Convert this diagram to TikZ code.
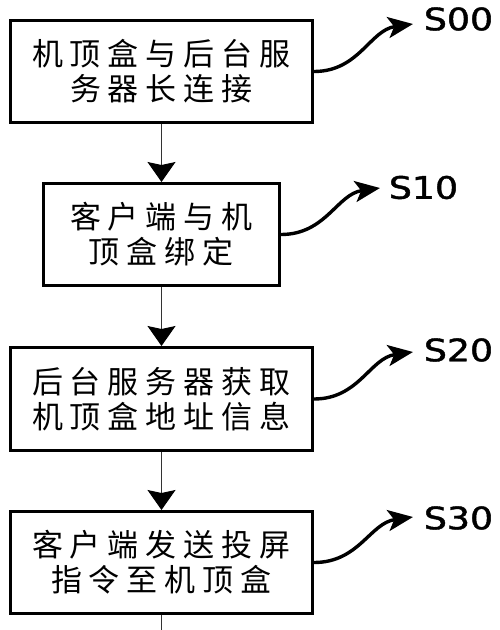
\documentclass[tikz,border=0pt]{standalone}
\usepackage{fontspec}
\newfontfamily\cjk{Noto Sans CJK SC}
\newfontfamily\lab[FakeBold=1.3]{DejaVu Sans}
\usetikzlibrary{arrows.meta}
\newdimen\cjkgap \cjkgap=7pt
\makeatletter
\def\spaced#1{\spaced@#1\@nil}
\def\spaced@#1{\ifx#1\@nil\else#1\expandafter\spaced@@\fi}
\def\spaced@@#1{\ifx#1\@nil\else\kern\cjkgap#1\expandafter\spaced@@\fi}
\makeatother
\tikzset{
  box/.style={draw, line width=3pt, inner sep=0pt, align=center,
    minimum height=102pt,
    font=\cjk\fontsize{31}{35}\selectfont},
  wide/.style={minimum width=302pt},
  narrow/.style={minimum width=236pt},
  flow/.style={draw=black!80, line width=1pt},
  flowarrow/.style={flow, -{Stealth[length=20pt,width=28pt,inset=3pt,fill=black,color=black]}},
  wave/.style={line width=3.4pt, -{Stealth[length=25pt,width=21pt,inset=6pt]}},
  lbl/.style={inner sep=0pt, font=\lab\fontsize{31}{31}\selectfont}
}
\begin{document}
\begin{tikzpicture}[x=1pt,y=-1pt]
\useasboundingbox (0,0) rectangle (500,630);
\node[box,wide] (b1) at (161.5,71.5) {\spaced{机顶盒与后台服}\\\spaced{务器长连接}};
\node[box,narrow] (b2) at (161.5,234.5) {\spaced{客户端与机}\\\spaced{顶盒绑定}};
\node[box,wide,minimum height=103pt] (b3) at (161.5,399) {\spaced{后台服务器获取}\\\spaced{机顶盒地址信息}};
\node[box,wide] (b4) at (161.5,562.5) {\spaced{客户端发送投屏}\\\spaced{指令至机顶盒}};
\coordinate (bot) at (161.5,630);
\draw[flowarrow] (b1.south) -- (b2.north);
\draw[flowarrow] (b2.south) -- (b3.north);
\draw[flowarrow] (b3.south) -- (b4.north);
\draw[flow] (b4.south) -- (bot);
\node[lbl] (l0) at (458.5,19) {\scalebox{1.17}[1]{S00}};
\node[lbl] (l1) at (423.5,187.5) {\scalebox{1.17}[1]{S10}};
\node[lbl] (l2) at (458.5,350) {\scalebox{1.17}[1]{S20}};
\node[lbl] (l3) at (458.5,518) {\scalebox{1.17}[1]{S30}};
\coordinate (t0) at (413,24);
\coordinate (t1) at (380,188);
\coordinate (t2) at (413,352);
\coordinate (t3) at (413,517);
\draw[wave] (b1.east) .. controls +(45,0) and +(-43,6) .. (t0);
\draw[wave] (b2.east) .. controls +(45,0) and +(-43,6) .. (t1);
\draw[wave] (b3.east) .. controls +(45,0) and +(-43,6) .. (t2);
\draw[wave] (b4.east) .. controls +(45,0) and +(-43,6) .. (t3);
\end{tikzpicture}
\end{document}
